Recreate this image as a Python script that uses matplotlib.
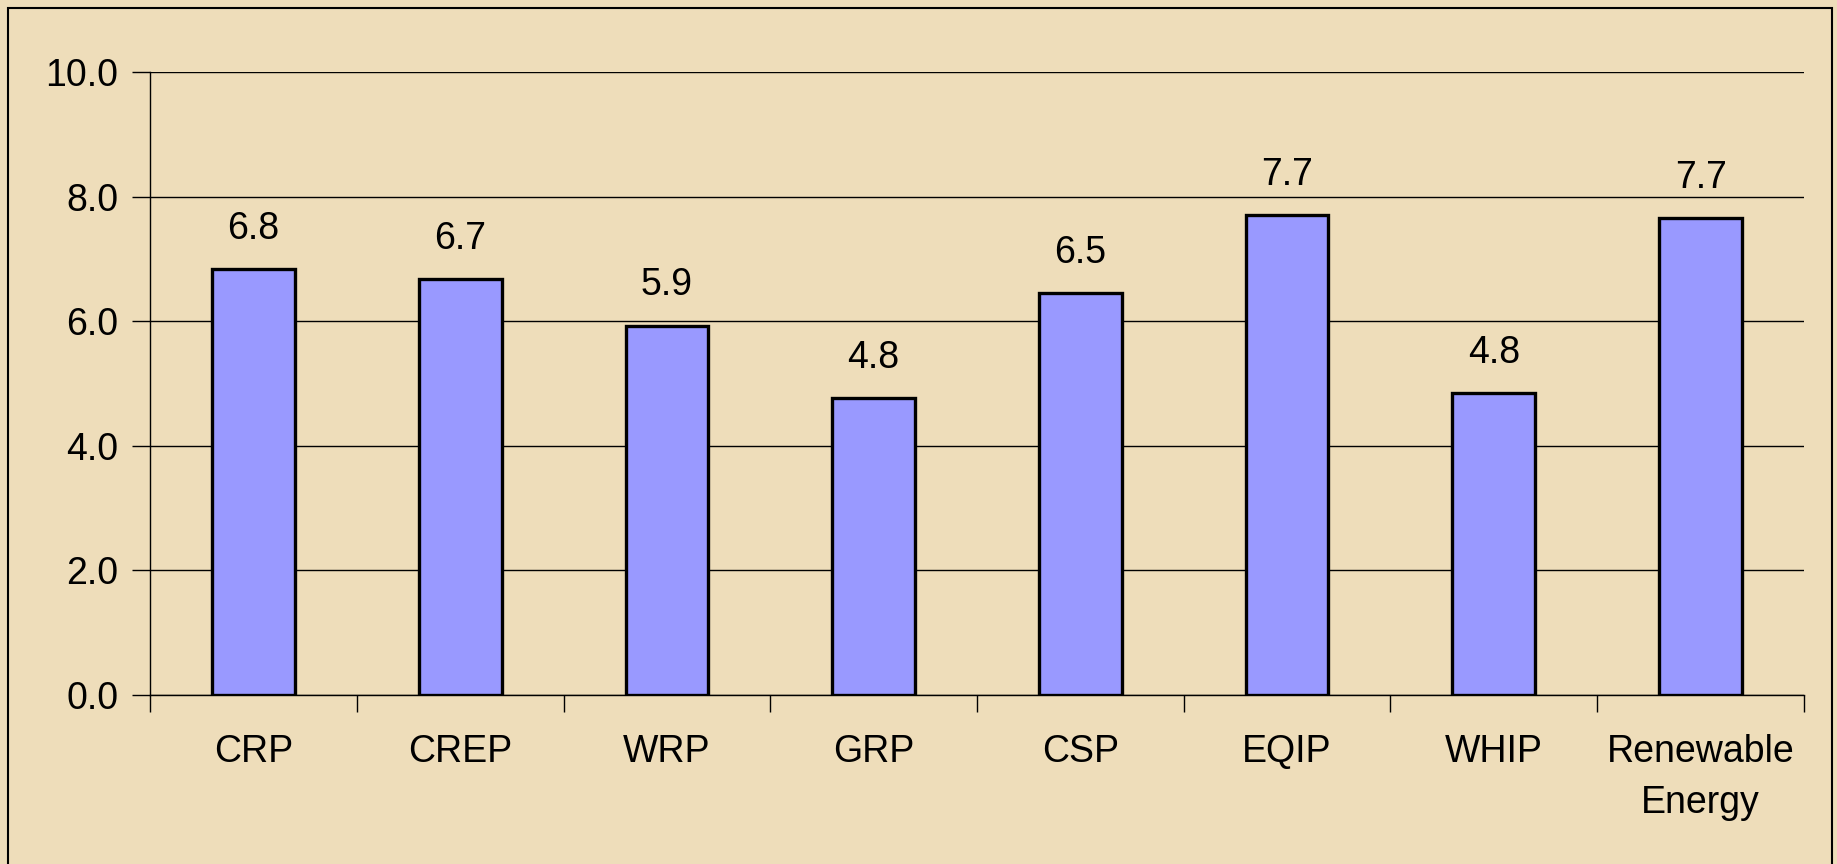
import numpy as np
import matplotlib
matplotlib.use('Agg')
import matplotlib.pyplot as plt
import matplotlib.patches as mpatches

plt.rcParams['font.family'] = ['Liberation Sans', 'DejaVu Sans']

# data
programs = ['CRP', 'CREP', 'WRP', 'GRP', 'CSP', 'EQIP', 'WHIP', 'Renewable\nEnergy']
scores = [6.83, 6.68, 5.93, 4.76, 6.45, 7.70, 4.84, 7.66]
yticks = [0.0, 2.0, 4.0, 6.0, 8.0, 10.0]

bg = '#EEDDBA'
bar_color = '#9999FF'

fig = plt.figure(figsize=(18.37, 8.64), dpi=100, facecolor=bg)
ax = fig.add_axes([0.0817, 0.1956, 0.9003, 0.7211])
ax.set_facecolor(bg)

x = np.arange(len(programs))
bars = ax.bar(x, scores, width=0.4, color=bar_color, edgecolor='black',
              linewidth=2.4, zorder=3)

for xi, v in zip(x, scores):
    ax.annotate('{:.1f}'.format(v), (xi, v), xytext=(0, 16),
                textcoords='offset points', ha='center', va='bottom',
                fontsize=27, color='black')

ax.set_xlim(-0.5, len(programs) - 0.5)
ax.set_ylim(0, 10)
ax.set_yticks(yticks)
ax.set_yticklabels(['{:.1f}'.format(t) for t in yticks])
ax.yaxis.grid(True, color='black', linewidth=1.0, zorder=0)
ax.set_axisbelow(True)

# category labels centred, ticks at category boundaries
ax.set_xticks(x)
ax.set_xticklabels(programs, fontsize=27, linespacing=1.55)
ax.tick_params(axis='x', length=0, pad=28)
ax.set_xticks(np.arange(len(programs) + 1) - 0.5, minor=True)
ax.tick_params(axis='x', which='minor', length=12, width=1.0, direction='out')
ax.tick_params(axis='y', length=13, width=1.0, direction='out', pad=10,
               labelsize=27)

for side in ['top', 'right']:
    ax.spines[side].set_visible(False)
ax.spines['left'].set_linewidth(1.0)
ax.spines['bottom'].set_linewidth(1.0)

# outer frame of the chart area
frame = mpatches.Rectangle((8 / 1837, -0.05), (1832 - 8) / 1837, 1.05 - 8 / 864,
                           transform=fig.transFigure, fill=False,
                           edgecolor='black', linewidth=1.5)
fig.patches.append(frame)

fig.savefig('out.png', dpi=100, facecolor=bg)
